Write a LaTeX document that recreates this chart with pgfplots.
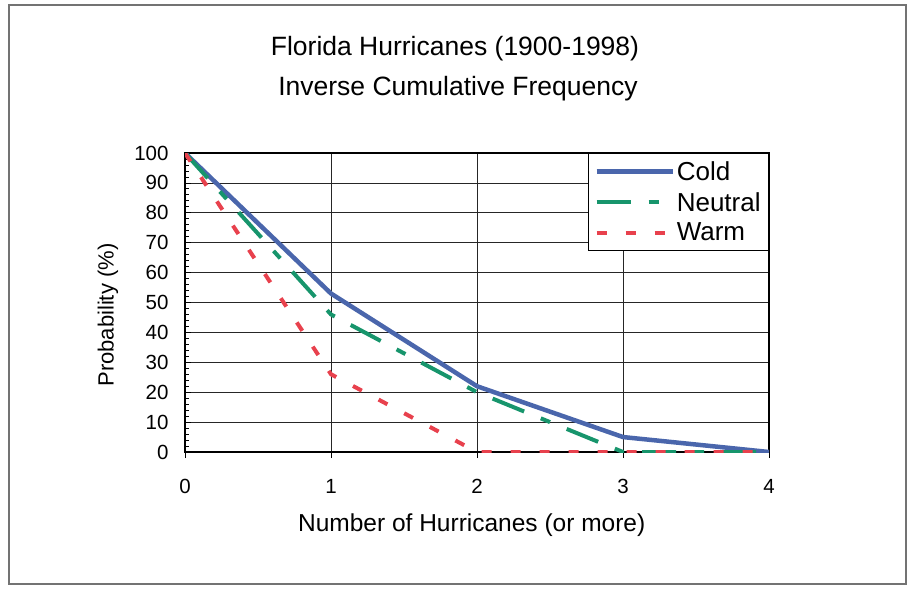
\documentclass[border=0pt]{standalone}
\usepackage{pgfplots}
\pgfplotsset{compat=1.18}
\usepackage{fontspec}
\setmainfont{Liberation Sans}

\definecolor{coldblue}{HTML}{4A66AC}
\definecolor{neutralgreen}{HTML}{17956C}
\definecolor{warmred}{HTML}{E8414D}

\begin{document}
\begin{tikzpicture}
  % page extent and outer frame
  \path[use as bounding box] (0pt,0pt) rectangle (909pt,590pt);
  \draw[line width=1.2pt, black!55] (9pt,6pt) rectangle (906pt,585pt);

  % two-line title
  \node[font=\fontsize{26.5}{30}\selectfont] at (455pt,541pt) {Florida Hurricanes (1900-1998)};
  \node[font=\fontsize{26.5}{30}\selectfont] at (458pt,501pt) {Inverse Cumulative Frequency};

  \begin{axis}[
    at={(185pt,138pt)}, anchor=south west,
    scale only axis, width=584pt, height=299pt,
    xmin=0, xmax=4, ymin=0, ymax=100,
    xtick={0,1,2,3,4},
    ytick={0,10,...,100},
    minor y tick num=4,
    xtick pos=bottom, ytick pos=left,
    grid=major,
    major grid style={line width=0.8pt, black!85},
    axis line style={line width=1.4pt, black},
    x tick style={line width=1pt, black},
    y tick style={line width=0.8pt, black},
    xtick align=outside,
    ytick align=inside,
    major tick length=6pt,
    minor tick length=4pt,
    tick label style={font=\fontsize{20.5}{24}\selectfont},
    /pgf/number format/assume math mode=true,
    xticklabel style={yshift=-18pt},
    yticklabel style={xshift=-13pt},
    xlabel={Number of Hurricanes (or more)},
    ylabel={Probability (\%)},
    xlabel style={font=\fontsize{24.5}{28}\selectfont,
      at={(axis description cs:0.491,-0.244)}, anchor=center},
    ylabel style={font=\fontsize{22}{26}\selectfont,
      at={(axis description cs:-0.132,0.458)}, anchor=center},
    legend style={
      at={(1,1)}, anchor=north east,
      font=\fontsize{26}{30}\selectfont,
      draw=black, line width=0.8pt,
      inner xsep=6pt, inner ysep=6pt,
      row sep=6.5pt,
      cells={anchor=west},
    },
    legend image code/.code={\draw[#1] (0pt,0pt) -- (76pt,0pt);},
  ]
    \addplot[coldblue, line width=4.5pt, line join=round] coordinates {
      (0,100) (1,53) (2,22) (3,5) (4,0)
    };
    \addlegendentry{Cold}

    \addplot[neutralgreen, line width=4pt,
      dash pattern=on 34pt off 18pt on 10pt off 18pt] coordinates {
      (0,100) (1,46) (2,20) (3,0) (4,0)
    };
    \addlegendentry{Neutral}

    \addplot[warmred, line width=4pt,
      dash pattern=on 10pt off 19pt] coordinates {
      (0,100) (1,26) (2,0) (3,0) (4,0)
    };
    \addlegendentry{Warm}
  \end{axis}
\end{tikzpicture}
\end{document}
